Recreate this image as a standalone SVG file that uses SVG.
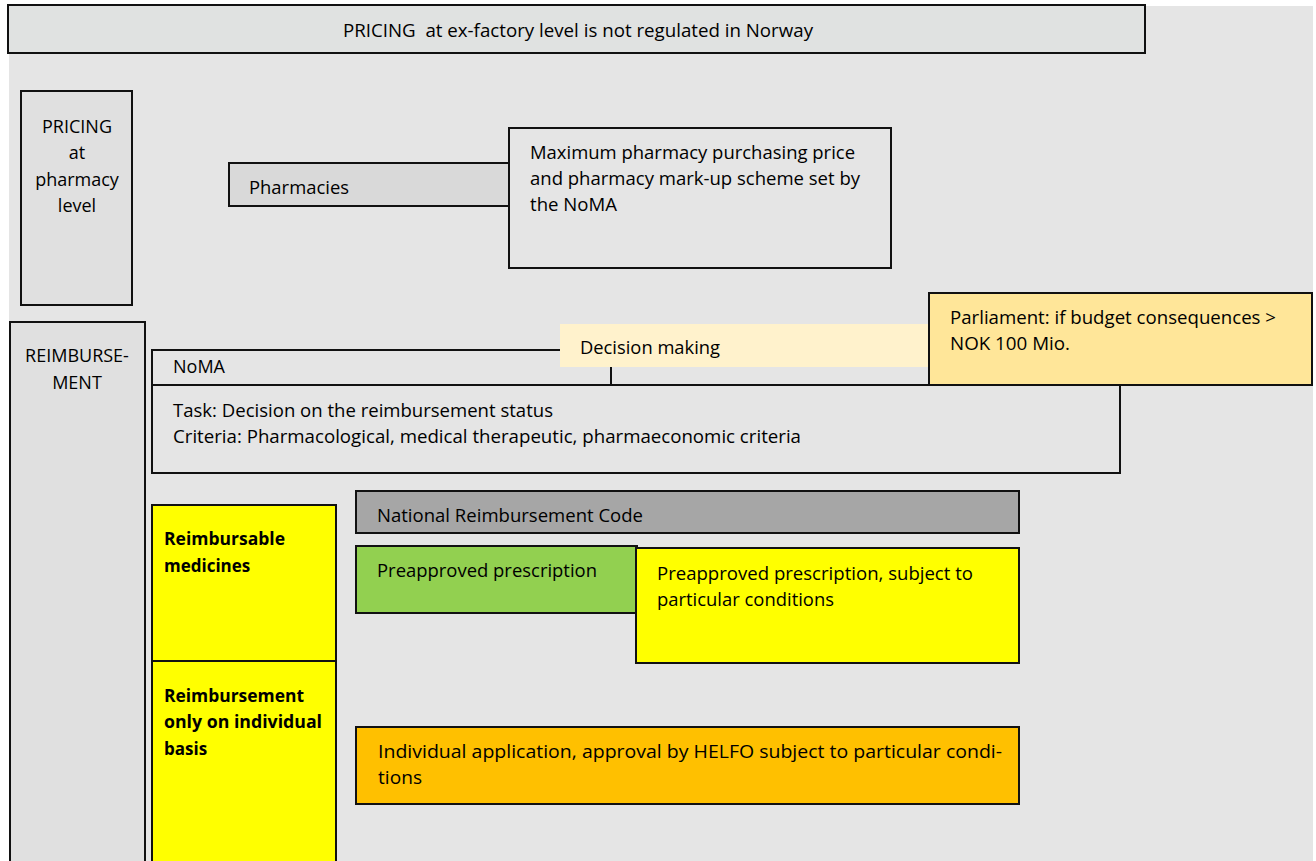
<svg xmlns="http://www.w3.org/2000/svg" width="1316" height="861" viewBox="0 0 1316 861">
<style>
text{font-family:"Open Sans","Liberation Sans",sans-serif;font-size:18px;fill:#000;white-space:pre}
.b{font-weight:bold;font-size:17px}
.box{stroke:#111;stroke-width:2}
.c{text-anchor:middle}
</style>
<rect width="1316" height="861" fill="#fff"/>
<rect x="9" y="6" width="1304" height="855" fill="#e5e5e5"/>
<g id="top"><rect class="box" x="8" y="5" width="1137" height="48" fill="#e0e2e1"/>
<text x="343" y="37" textLength="470" lengthAdjust="spacingAndGlyphs" xml:space="preserve">PRICING  at ex-factory level is not regulated in Norway</text></g>
<g id="pricing"><rect class="box" x="21" y="91" width="111" height="214" fill="#e0e0e0"/>
<text class="c" x="77" y="133">PRICING</text><text class="c" x="77" y="159">at</text><text class="c" x="77" y="186">pharmacy</text><text class="c" x="77" y="212">level</text></g>
<g id="pharmacies"><rect class="box" x="229" y="163" width="281" height="43" fill="#d9d9d9"/>
<text x="249" y="194" textLength="100" lengthAdjust="spacingAndGlyphs">Pharmacies</text></g>
<g id="maxprice"><rect class="box" x="509" y="128" width="382" height="140" fill="#e5e5e5"/>
<text x="530" y="159" textLength="325" lengthAdjust="spacingAndGlyphs">Maximum pharmacy purchasing price</text><text x="530" y="185" textLength="330" lengthAdjust="spacingAndGlyphs">and pharmacy mark-up scheme set by</text><text x="530" y="211" textLength="87" lengthAdjust="spacingAndGlyphs">the NoMA</text></g>
<g id="reimb"><rect class="box" x="10" y="322" width="135" height="545" fill="#e0e0e0"/>
<text class="c" x="77" y="362">REIMBURSE-</text><text class="c" x="77" y="389">MENT</text></g>
<g id="noma"><rect class="box" x="152" y="350" width="968" height="123" fill="#e5e5e5"/>
<line class="box" x1="152" y1="385" x2="1120" y2="385"/>
<text x="173" y="373">NoMA</text>
<text x="173" y="417" textLength="380" lengthAdjust="spacingAndGlyphs">Task: Decision on the reimbursement status</text>
<text x="173" y="443" textLength="628" lengthAdjust="spacingAndGlyphs">Criteria: Pharmacological, medical therapeutic, pharmaeconomic criteria</text></g>
<g id="connectors"><line class="box" x1="611" y1="366" x2="611" y2="385"/></g>
<g id="decision"><rect x="560" y="324" width="370" height="43" fill="#fff2cc"/>
<text x="580" y="354" textLength="140" lengthAdjust="spacingAndGlyphs">Decision making</text></g>
<g id="parliament"><rect class="box" x="929" y="293" width="383" height="92" fill="#ffe699"/>
<text x="950" y="324" textLength="326" lengthAdjust="spacingAndGlyphs">Parliament: if budget consequences &gt;</text><text x="950" y="350" textLength="120" lengthAdjust="spacingAndGlyphs">NOK 100 Mio.</text></g>
<g id="nrc"><rect class="box" x="356" y="491" width="663" height="42" fill="#a6a6a6"/>
<text x="377" y="522" textLength="266" lengthAdjust="spacingAndGlyphs">National Reimbursement Code</text></g>
<g id="reimbursable"><rect class="box" x="152" y="505" width="184" height="156" fill="#ffff00"/>
<text class="b" x="164" y="545" textLength="121" lengthAdjust="spacingAndGlyphs">Reimbursable</text><text class="b" x="164" y="572">medicines</text></g>
<g id="individual"><rect class="box" x="152" y="661" width="184" height="206" fill="#ffff00"/>
<text class="b" x="164" y="702" textLength="140" lengthAdjust="spacingAndGlyphs">Reimbursement</text><text class="b" x="164" y="728" textLength="158" lengthAdjust="spacingAndGlyphs">only on individual</text><text class="b" x="164" y="755">basis</text></g>
<g id="preapproved"><rect class="box" x="356" y="546" width="281" height="67" fill="#92d050"/>
<text x="377" y="577" textLength="220" lengthAdjust="spacingAndGlyphs">Preapproved prescription</text></g>
<g id="preapproved-cond"><rect class="box" x="636" y="548" width="383" height="115" fill="#ffff00"/>
<text x="657" y="580" textLength="316" lengthAdjust="spacingAndGlyphs">Preapproved prescription, subject to</text><text x="657" y="606" textLength="177" lengthAdjust="spacingAndGlyphs">particular conditions</text></g>
<g id="helfo"><rect class="box" x="356" y="727" width="663" height="77" fill="#ffc000"/>
<text x="378" y="758" textLength="624" lengthAdjust="spacingAndGlyphs">Individual application, approval by HELFO subject to particular condi-</text><text x="378" y="784" textLength="44" lengthAdjust="spacingAndGlyphs">tions</text></g>
</svg>
